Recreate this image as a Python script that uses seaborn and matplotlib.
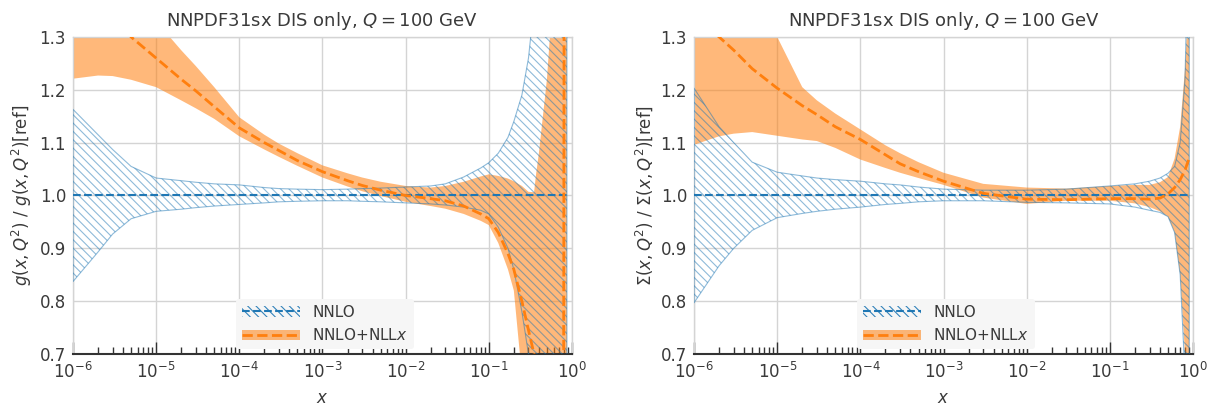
import numpy as np
import pandas as pd
import matplotlib
matplotlib.use("Agg")
import matplotlib.pyplot as plt
import seaborn as sns
from matplotlib.lines import Line2D
from matplotlib.patches import Patch
from matplotlib.ticker import LogLocator, NullFormatter

BLUE = "#1f77b4"
ORANGE = "#ff7f0e"
HATCH = "\\" * 4
TITLE = r"NNPDF31sx DIS only, $Q=100$ GeV"

# gluon ratio, left panel
X_G = [1e-6, 2e-6, 3e-6, 5e-6, 1e-5, 2e-5, 3e-5, 5e-5, 1e-4, 2e-4, 3e-4, 5e-4,
       1e-3, 2e-3, 3e-3, 5e-3, 1e-2, 2e-2, 3e-2, 5e-2, 0.08, 0.1, 0.13, 0.17,
       0.2, 0.25, 0.3, 0.35, 0.37, 0.4, 0.5, 0.6, 0.7, 0.79, 0.81, 0.87]
G_NNLO_UP = [1.163, 1.115, 1.087, 1.055, 1.033, 1.028, 1.025, 1.022, 1.02, 1.015,
             1.013, 1.012, 1.011, 1.012, 1.013, 1.014, 1.016, 1.018, 1.022, 1.035,
             1.052, 1.062, 1.08, 1.11, 1.14, 1.19, 1.26, 1.36, 1.40, 1.45, 1.6,
             1.75, 1.9, 2.0, 2.0, 2.0]
G_NNLO_LO = [0.837, 0.893, 0.927, 0.956, 0.97, 0.974, 0.977, 0.98, 0.983, 0.986,
             0.988, 0.989, 0.99, 0.99, 0.989, 0.988, 0.986, 0.984, 0.982, 0.978,
             0.972, 0.965, 0.94, 0.9, 0.86, 0.78, 0.7, 0.6, 0.55, 0.5, 0.4, 0.3,
             0.2, 0.1, 0.1, 0.1]
G_NNLO_CV = [1.0] * len(X_G)
G_NLLX_UP = [1.60, 1.52, 1.47, 1.40, 1.33, 1.275, 1.245, 1.205, 1.148, 1.115,
             1.098, 1.08, 1.057, 1.042, 1.034, 1.026, 1.018, 1.015, 1.018, 1.026,
             1.036, 1.040, 1.037, 1.032, 1.027, 1.018, 1.007, 1.006, 1.04, 1.08,
             1.22, 1.40, 1.6, 1.7, 1.7, 1.7]
G_NLLX_CV = [1.42, 1.37, 1.34, 1.30, 1.26, 1.22, 1.198, 1.168, 1.128, 1.1,
             1.085, 1.066, 1.045, 1.028, 1.019, 1.01, 1.0, 0.994, 0.99, 0.98,
             0.965, 0.956, 0.93, 0.89, 0.86, 0.80, 0.745, 0.70, 0.68, 0.64, 0.55,
             0.48, 0.42, 0.35, 1.8, 1.8]
G_NLLX_LO = [1.221, 1.227, 1.226, 1.219, 1.205, 1.18, 1.165, 1.145, 1.112, 1.087,
             1.073, 1.056, 1.034, 1.017, 1.008, 0.999, 0.988, 0.98, 0.975, 0.965,
             0.952, 0.944, 0.91, 0.86, 0.82, 0.66, 0.5, 0.4, 0.35, 0.3, 0.2, 0.2,
             0.2, 0.2, 0.2, 0.2]

# singlet ratio, right panel
X_S = [1e-6, 2e-6, 3e-6, 5e-6, 1e-5, 2e-5, 3e-5, 5e-5, 1e-4, 2e-4, 3e-4, 5e-4,
       1e-3, 3e-3, 1e-2, 3e-2, 0.1, 0.2, 0.3, 0.4, 0.5, 0.6, 0.7, 0.8, 0.85, 0.9]
S_NNLO_UP = [1.203, 1.13, 1.1, 1.063, 1.044, 1.037, 1.033, 1.03, 1.027, 1.022,
             1.02, 1.016, 1.012, 1.01, 1.01, 1.012, 1.018, 1.022, 1.027, 1.033,
             1.042, 1.055, 1.1, 1.22, 1.4, 1.6]
S_NNLO_LO = [0.797, 0.867, 0.9, 0.934, 0.958, 0.966, 0.97, 0.974, 0.978, 0.983,
             0.985, 0.988, 0.99, 0.99, 0.987, 0.986, 0.984, 0.978, 0.972, 0.968,
             0.96, 0.93, 0.85, 0.66, 0.5, 0.4]
S_NNLO_CV = [1.0] * len(X_S)
S_NLLX_UP = [1.6, 1.5, 1.45, 1.38, 1.3, 1.205, 1.18, 1.155, 1.125, 1.095, 1.08,
             1.063, 1.043, 1.022, 1.015, 1.013, 1.018, 1.02, 1.02, 1.025, 1.035,
             1.07, 1.13, 1.24, 1.32, 1.6]
S_NLLX_CV = [1.34, 1.30, 1.275, 1.24, 1.203, 1.17, 1.153, 1.13, 1.106, 1.077,
             1.06, 1.045, 1.027, 1.004, 0.993, 0.992, 0.994, 0.994, 0.993, 0.995,
             1.003, 1.015, 1.03, 1.048, 1.06, 1.07]
S_NLLX_LO = [1.096, 1.112, 1.117, 1.12, 1.113, 1.106, 1.103, 1.09, 1.068, 1.052,
             1.043, 1.033, 1.02, 0.996, 0.984, 0.99, 0.99, 0.985, 0.978, 0.97,
             0.96, 0.93, 0.85, 0.7, 0.6, 0.5]

YLABEL_G = r"$g(x,Q^2)\ /\ g(x,Q^2)[\mathrm{ref}]$"
YLABEL_S = r"$\Sigma(x,Q^2)\ /\ \Sigma(x,Q^2)[\mathrm{ref}]$"

sns.set_theme(style="whitegrid")
plt.rcParams["font.family"] = ["DejaVu Sans"]
plt.rcParams["mathtext.fontset"] = "dejavusans"
plt.rcParams["hatch.linewidth"] = 0.8
TEXT = "#3a3a3a"


def draw_panel(ax, x, nnlo, nllx, ylabel):
    """nnlo / nllx are (lower, central, upper) lists"""
    ax.fill_between(x, nllx[0], nllx[2], facecolor=ORANGE, alpha=0.55,
                    linewidth=0, zorder=2)
    ax.fill_between(x, nnlo[0], nnlo[2], facecolor="none", edgecolor=BLUE,
                    hatch=HATCH, linewidth=0.8, alpha=0.5, zorder=3)
    df_a = pd.DataFrame({"x": x, "ratio": nnlo[1]})
    df_b = pd.DataFrame({"x": x, "ratio": nllx[1]})
    sns.lineplot(data=df_a, x="x", y="ratio", ax=ax, color=BLUE, lw=1.5,
                 linestyle="--", estimator=None, sort=False, zorder=4)
    sns.lineplot(data=df_b, x="x", y="ratio", ax=ax, color=ORANGE, lw=2,
                 linestyle="--", estimator=None, sort=False, zorder=5)

    ax.set_xscale("log")
    ax.set_xlim(1e-6, 1)
    ax.set_ylim(0.7, 1.3)
    ax.set_yticks(np.arange(0.7, 1.31, 0.1))
    ax.xaxis.set_major_locator(LogLocator(base=10, numticks=10))
    ax.xaxis.set_minor_locator(LogLocator(base=10, subs=np.arange(2, 10), numticks=20))
    ax.xaxis.set_minor_formatter(NullFormatter())
    ax.grid(True, which="major", color="#d4d4d4", lw=1)
    ax.grid(False, which="minor")
    ax.tick_params(axis="x", which="major", direction="in", length=9, width=1,
                   color="#333333", labelsize=12, labelcolor=TEXT, pad=6, bottom=True)
    ax.tick_params(axis="x", which="minor", direction="in", length=5, width=1,
                   color="#333333", bottom=True)
    ax.tick_params(axis="y", length=0, labelsize=12, labelcolor=TEXT, pad=5)
    for side in ["left", "right", "top"]:
        ax.spines[side].set_color("#d4d4d4")
        ax.spines[side].set_linewidth(1)
    ax.spines["bottom"].set_color("#333333")
    ax.spines["bottom"].set_linewidth(1.5)

    ax.set_title(TITLE, fontsize=13, color=TEXT, pad=8)
    ax.set_xlabel(r"$x$", fontsize=12, color=TEXT, labelpad=5)
    ax.set_ylabel(ylabel, fontsize=12, color=TEXT)

    handles = [
        (Patch(facecolor="none", edgecolor=BLUE, hatch=HATCH, lw=0, alpha=0.9),
         Line2D([], [], color=BLUE, lw=1.5, ls="--")),
        (Patch(facecolor=ORANGE, alpha=0.55, lw=0),
         Line2D([], [], color=ORANGE, lw=2, ls="--")),
    ]
    leg = ax.legend(handles, ["NNLO", r"NNLO+NLL$x$"], loc="lower center",
                    bbox_to_anchor=(0.505, 0.0), fontsize=11, handlelength=3.8,
                    frameon=True, facecolor="#f6f6f6", edgecolor="none",
                    framealpha=1, borderaxespad=0.3)
    for t in leg.get_texts():
        t.set_color(TEXT)


fig = plt.figure(figsize=(12.1, 4.08), dpi=100)
ax1 = fig.add_axes([0.0603, 0.1324, 0.4124, 0.777])
ax2 = fig.add_axes([0.5736, 0.1324, 0.4124, 0.777])

draw_panel(ax1, X_G, (G_NNLO_LO, G_NNLO_CV, G_NNLO_UP),
           (G_NLLX_LO, G_NLLX_CV, G_NLLX_UP), YLABEL_G)
draw_panel(ax2, X_S, (S_NNLO_LO, S_NNLO_CV, S_NNLO_UP),
           (S_NLLX_LO, S_NLLX_CV, S_NLLX_UP), YLABEL_S)

fig.savefig("out.png", dpi=100)
